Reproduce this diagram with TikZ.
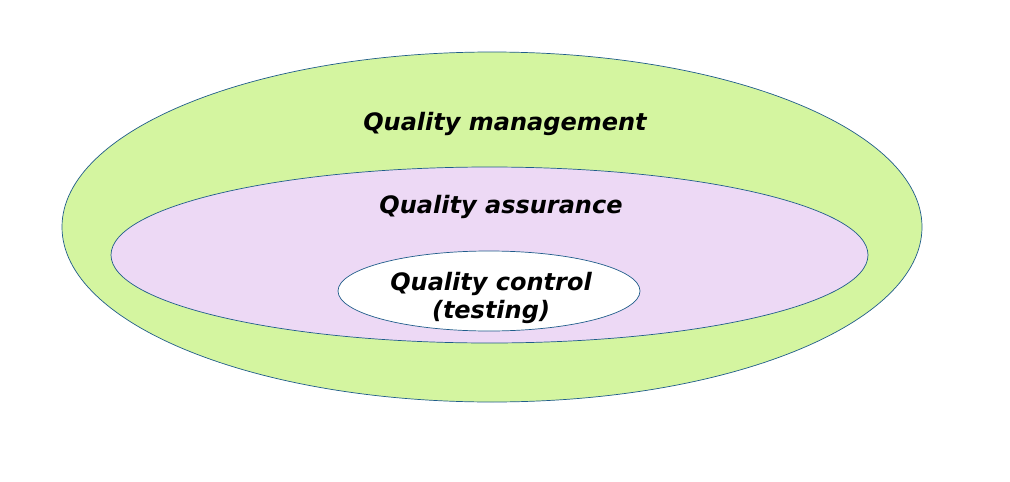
\documentclass[tikz,border=0pt]{standalone}
\usepackage{fontspec}
\setmainfont{DejaVu Sans}
\definecolor{qmgreen}{HTML}{D4F5A0}
\definecolor{qapurple}{HTML}{EDD9F5}
\definecolor{edgeblue}{HTML}{1F5C8A}
\begin{document}
\begin{tikzpicture}[x=1pt,y=-1pt,
  ring/.style={draw=edgeblue,line width=0.7pt},
  lbl/.style={font=\fontsize{24}{28}\selectfont\bfseries\itshape,inner sep=0pt,anchor=base}]
\useasboundingbox (0,0) rectangle (1010,482);
\fill[white] (0,0) rectangle (1010,482);
\path[ring,fill=qmgreen] (492,227) ellipse [x radius=430,y radius=175];
\path[ring,fill=qapurple] (489.5,255) ellipse [x radius=378.5,y radius=88];
\path[ring,fill=white] (489,291) ellipse [x radius=151,y radius=40];
\node[lbl] (qm) at (505,130) {Quality management};
\node[lbl] (qa) at (501,213) {Quality assurance};
\node[lbl] (qc) at (491,290) {Quality control};
\node[lbl] (qt) at (491,318) {(testing)};
\end{tikzpicture}
\end{document}
